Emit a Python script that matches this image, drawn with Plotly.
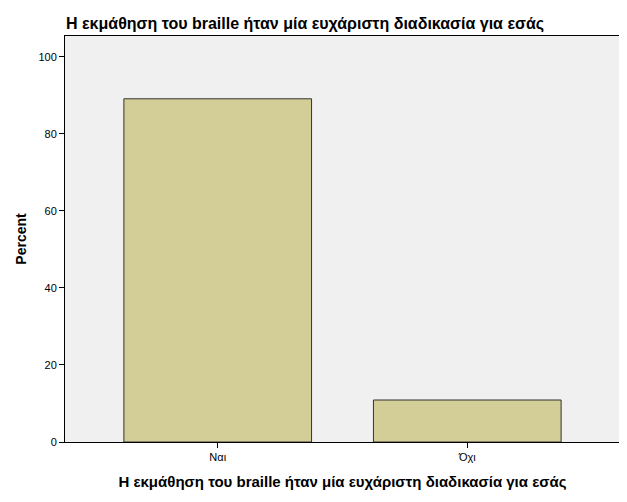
import plotly.graph_objects as go

categories = ["Ναι", "Όχι"]
percent = [89.1, 10.9]
title_text = "Η εκμάθηση του braille ήταν μία ευχάριστη διαδικασία για εσάς"

fig = go.Figure()
fig.add_trace(go.Bar(
    x=[0, 1],
    y=percent,
    width=0.752,
    marker=dict(color="#d3ce97", line=dict(color="#333333", width=1)),
))

fig.update_layout(
    width=627,
    height=502,
    paper_bgcolor="white",
    plot_bgcolor="#f0f0f0",
    margin=dict(l=57, r=15, t=28, b=68),
    font=dict(family="Liberation Sans, Arial", color="black"),
    title=dict(text="<b>" + title_text + "</b>", x=58 / 627, xanchor="left", y=1 - 15 / 502,
               yanchor="middle", font=dict(size=16, family="Liberation Sans, Arial")),
    showlegend=False,
)
fig.update_xaxes(
    range=[-0.612, 1.612],
    tickvals=[0, 1],
    ticktext=categories,
    ticks="outside",
    ticklen=5,
    tickcolor="black",
    tickfont=dict(size=11),
    showgrid=False,
    zeroline=False,
    showline=True,
    linecolor="black",
    mirror=True,
    automargin=False,
    title=dict(text="<b>" + title_text + "</b>", font=dict(size=15), standoff=14),
)
fig.update_yaxes(
    range=[0, 105.4],
    tickvals=[0, 20, 40, 60, 80, 100],
    ticks="outside",
    ticklen=5,
    tickcolor="black",
    tickfont=dict(size=11),
    showgrid=False,
    zeroline=False,
    showline=True,
    linecolor="black",
    mirror=True,
    automargin=False,
    title=dict(text="<b>Percent</b>", font=dict(size=14), standoff=8),
)

fig.write_html("out.html")
